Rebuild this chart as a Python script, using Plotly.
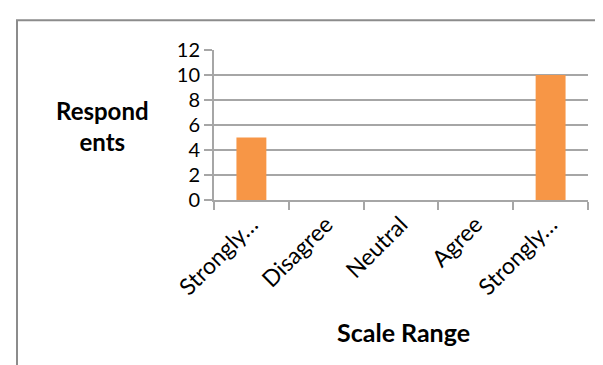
import plotly.graph_objects as go

categories = ["Strongly Disagree", "Disagree", "Neutral", "Agree", "Strongly Agree"]
tick_labels = ["Strongly…", "Disagree", "Neutral", "Agree", "Strongly…"]
respondents = [5, 0, 0, 0, 10]
y_ticks = [0, 2, 4, 6, 8, 10, 12]

GRID = "#A6A6A6"
FONT = "Lato"

fig = go.Figure(go.Bar(
    x=categories, y=respondents, width=0.4,
    marker=dict(color="#F79646", line=dict(width=0)),
))

W, H = 603, 365
L, R, T, B = 206, 23, 41.7, 173.3
pw, ph = W - L - R, H - T - B

def px_x(x):
    return (x - L) / pw

def px_y(y):
    return (H - B - y) / ph

fig.update_layout(
    width=W, height=H,
    margin=dict(l=L, r=R, t=T, b=B, autoexpand=False),
    paper_bgcolor="white", plot_bgcolor="white",
    showlegend=False,
    font=dict(family=FONT, color="black"),
    xaxis=dict(
        type="category", range=[-0.5, 4.5],
        tickvals=categories, ticktext=tick_labels,
        tickangle=-45, tickfont=dict(size=23, family=FONT),
        ticks="outside", tickson="boundaries", ticklen=8, tickwidth=2, tickcolor=GRID,
        showline=True, linecolor=GRID, linewidth=2,
        showgrid=False, zeroline=False,
    ),
    yaxis=dict(
        range=[0, 12], tickvals=y_ticks,
        tickfont=dict(size=20, family=FONT),
        ticks="outside", ticklen=8, tickwidth=2, tickcolor=GRID,
        showgrid=True, gridcolor=GRID, gridwidth=2,
        showline=True, linecolor=GRID, linewidth=2,
        zeroline=False,
    ),
    annotations=[
        dict(text="<b>Respond<br>ents</b>", x=px_x(94), y=px_y(118), xref="paper", yref="paper",
             showarrow=False, font=dict(size=24, family=FONT), xanchor="center", yanchor="middle"),
        dict(text="<b>Scale Range</b>", x=px_x(395), y=px_y(324), xref="paper", yref="paper",
             showarrow=False, font=dict(size=25, family=FONT), xanchor="center", yanchor="middle"),
    ],
    shapes=[
        dict(type="rect", xref="paper", yref="paper",
             x0=px_x(9), x1=px_x(640), y0=px_y(400), y1=px_y(12),
             line=dict(color="#8C8C8C", width=2), fillcolor="rgba(0,0,0,0)", layer="below"),
    ],
)

fig.write_html("out.html")
